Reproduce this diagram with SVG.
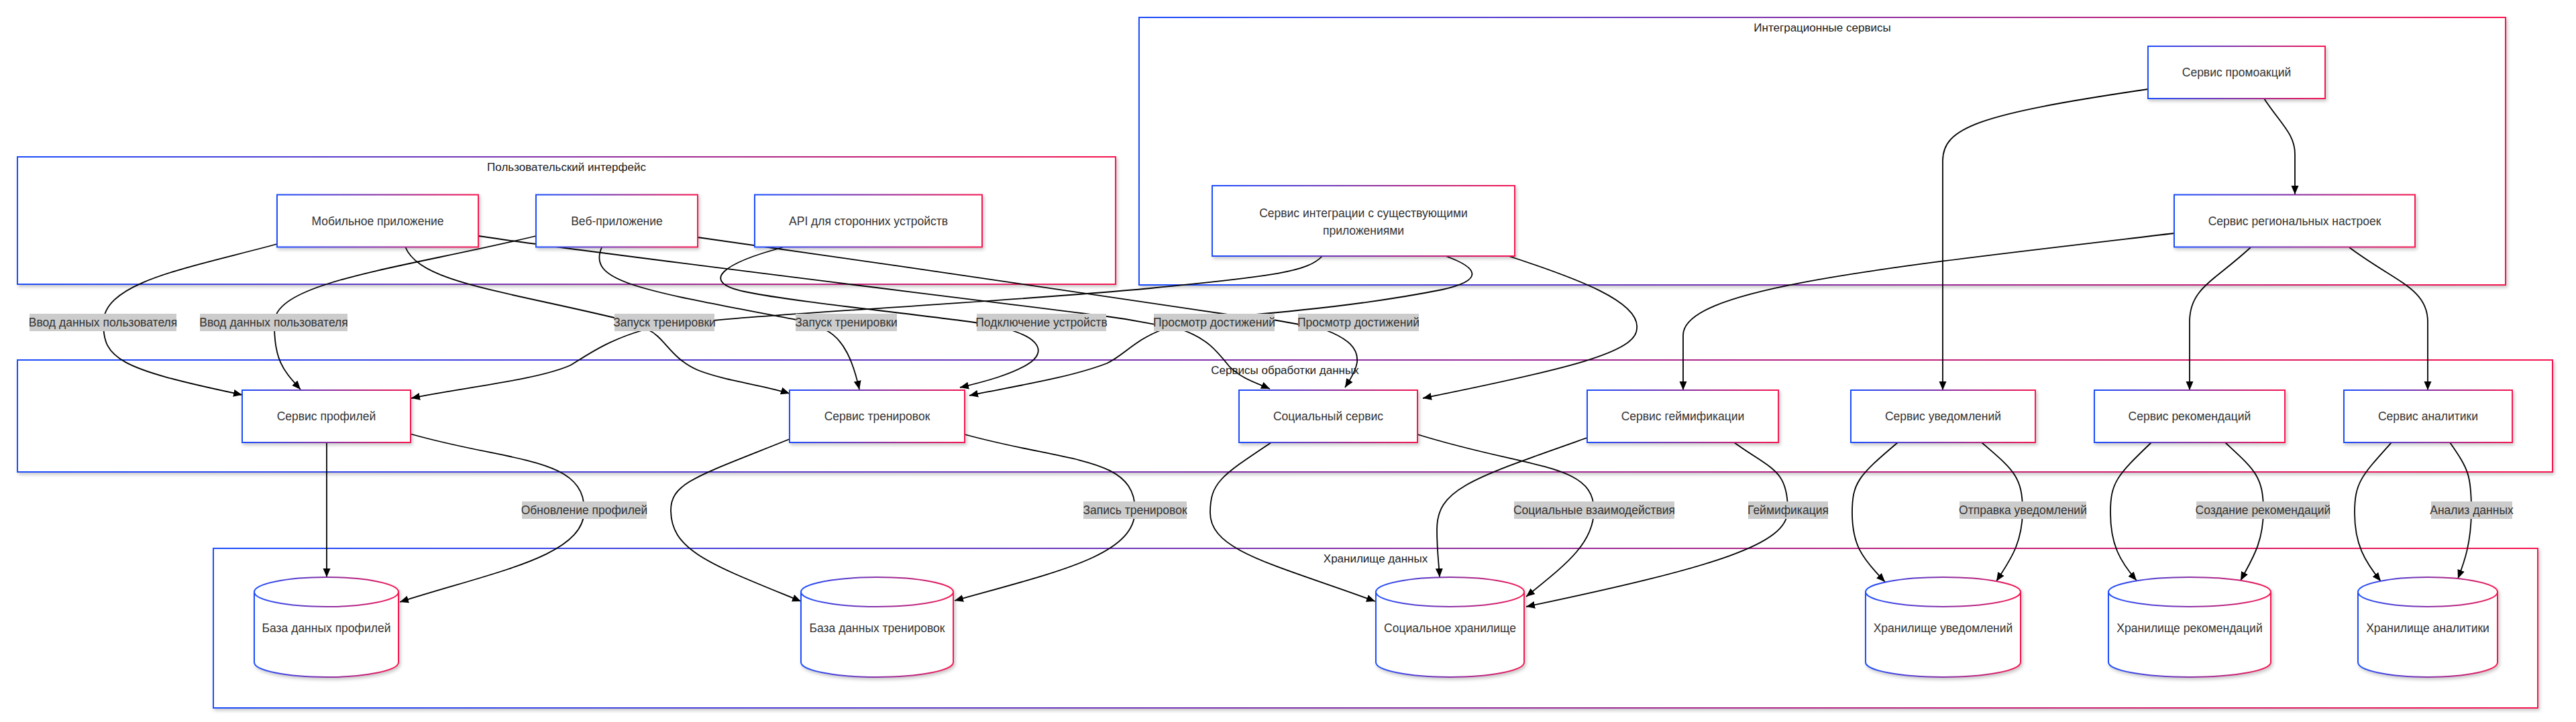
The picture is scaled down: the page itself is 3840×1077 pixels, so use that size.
<svg xmlns="http://www.w3.org/2000/svg" width="3840" height="1077" viewBox="0 0 3840 1077">
<defs>
  <linearGradient id="grad" x1="0" y1="0" x2="1" y2="0">
    <stop offset="0" stop-color="#1b4dff"/>
    <stop offset="1" stop-color="#f71650"/>
  </linearGradient>
  <filter id="sh" x="-5%" y="-10%" width="110%" height="130%">
    <feDropShadow dx="2" dy="3" stdDeviation="2.5" flood-color="#000" flood-opacity="0.22"/>
  </filter>
  <marker id="arr" markerUnits="userSpaceOnUse" markerWidth="14" markerHeight="12" refX="13" refY="5.5" orient="auto" viewBox="0 0 14 11">
    <path d="M0,0 L13,5.5 L0,11 z" fill="#000"/>
  </marker>
  <style>
    .box { fill:#fff; stroke:url(#grad); stroke-width:2; filter:url(#sh); }
    .ct { font-family:"Liberation Sans", Arial, sans-serif; font-size:17px; fill:#1a1a1a; text-anchor:middle; dominant-baseline:central; }
    .nt { font-family:"Liberation Sans", Arial, sans-serif; font-size:17.5px; fill:#333; text-anchor:middle; dominant-baseline:central; }
    .e { fill:none; stroke:#000; stroke-width:1.8; marker-end:url(#arr); }
    .lb { fill:#cccccc; }
    .lt { font-family:"Liberation Sans", Arial, sans-serif; font-size:17.5px; fill:#333; text-anchor:middle; dominant-baseline:central; }
  </style>
</defs>
<rect width="3840" height="1077" fill="#fff"/>

<g id="clusters">
  <g id="cluster-ui">
    <rect class="box" x="26" y="234" width="1637" height="190"/>
    <text class="ct" x="844.5" y="249">Пользовательский интерфейс</text>
  </g>
  <g id="cluster-integration">
    <rect class="box" x="1698" y="26" width="2037" height="399"/>
    <text class="ct" x="2716.5" y="41">Интеграционные сервисы</text>
  </g>
  <g id="cluster-processing">
    <rect class="box" x="26" y="537" width="3779" height="167"/>
    <text class="ct" x="1915.5" y="552">Сервисы обработки данных</text>
  </g>
  <g id="cluster-storage">
    <rect class="box" x="318" y="818" width="3465" height="238"/>
    <text class="ct" x="2050.5" y="833">Хранилище данных</text>
  </g>
</g>

<g id="connectors">
  <path class="e" d="M413,364 C280,400 156,420 154,481 C154,535 175,550 361,589"/>
  <path class="e" d="M799,352 C600,400 410,420 409,481 C408,540 425,555 448,581"/>
  <path class="e" d="M604,368 C625,420 740,432 916,474 L966,492 C990,502 1000,535 1040,552 C1080,568 1140,575 1177,587"/>
  <path class="e" d="M897,369 C875,420 950,432 1187,477 L1230,492 C1258,505 1272,540 1281,581"/>
  <path class="e" d="M1167,369 C1080,392 1040,420 1110,435 C1180,450 1380,470 1460,482 L1505,492 C1540,502 1562,520 1537,540 C1512,558 1465,570 1431,578"/>
  <path class="e" d="M1040,354 C1300,390 1700,450 1837,470 L1762,492 C1800,505 1815,525 1832,546 C1850,565 1875,572 1893,580"/>
  <path class="e" d="M713,352 C900,380 1400,440 1650,472 C1690,477 1710,482 1722,484 L1898,477 L1937,484 L1975,492 C2010,505 2025,520 2023,540 C2021,555 2010,570 2005,578"/>
  <path class="e" d="M1971,382 C1950,405 1900,412 1715,430 C1500,450 1200,465 1063,478 L957,493 C905,508 875,530 850,545 C800,567 690,578 613,594"/>
  <path class="e" d="M2155,382 C2205,400 2212,418 2150,432 C2050,452 1950,462 1862,470 L1732,492 C1692,507 1675,530 1650,542 C1590,565 1500,578 1445,590"/>
  <path class="e" d="M2249,382 C2350,415 2445,450 2440,490 C2440,525 2340,550 2121,594"/>
  <path class="e" d="M3241,348 C2800,400 2509,430 2509,500 L2509,582"/>
  <path class="e" d="M3202,133 C2950,170 2896,190 2896,240 L2896,582"/>
  <path class="e" d="M3375,147 C3400,185 3421,200 3421,230 L3421,290"/>
  <path class="e" d="M3355,369 C3300,420 3264,430 3264,480 L3264,582"/>
  <path class="e" d="M3502,369 C3570,420 3619,430 3619,480 L3619,582"/>
  <path class="e" d="M487,660 L487,861"/>
  <path class="e" d="M611,647 C760,690 871,680 871,761 C871,830 740,852 596,898"/>
  <path class="e" d="M1177,655 C1040,710 1000,720 1000,761 C1000,822 1060,842 1194,897"/>
  <path class="e" d="M1438,648 C1590,690 1692,680 1692,761 C1692,828 1580,852 1423,896"/>
  <path class="e" d="M1895,660 C1820,710 1804,720 1804,765 C1804,822 1900,842 2050,897"/>
  <path class="e" d="M2113,648 C2280,700 2376,690 2376,761 C2376,812 2330,845 2275,890"/>
  <path class="e" d="M2366,653 C2190,715 2142,730 2142,790 C2142,822 2145,842 2146,861"/>
  <path class="e" d="M2585,660 C2640,700 2665,700 2665,761 C2665,812 2560,845 2275,905"/>
  <path class="e" d="M2829,660 C2770,710 2761,720 2761,765 C2761,812 2775,832 2810,868"/>
  <path class="e" d="M2954,660 C3000,700 3015,710 3015,761 C3015,812 2995,837 2976,867"/>
  <path class="e" d="M3207,660 C3155,710 3146,720 3146,765 C3146,812 3160,837 3185,866"/>
  <path class="e" d="M3317,660 C3360,700 3374,710 3374,761 C3374,812 3355,837 3340,866"/>
  <path class="e" d="M3565,660 C3520,710 3510,720 3510,765 C3510,812 3525,837 3549,867"/>
  <path class="e" d="M3652,660 C3680,700 3684,710 3684,761 C3684,812 3672,842 3664,863"/>
</g>

<g id="edge-labels">
  <rect class="lb" x="44" y="468" width="219" height="26"/><text class="lt" x="153.5" y="481">Ввод данных пользователя</text>
  <rect class="lb" x="298" y="468" width="220" height="26"/><text class="lt" x="408" y="481">Ввод данных пользователя</text>
  <rect class="lb" x="916" y="468" width="149" height="26"/><text class="lt" x="990.5" y="481">Запуск тренировки</text>
  <rect class="lb" x="1186" y="468" width="151" height="26"/><text class="lt" x="1261.5" y="481">Запуск тренировки</text>
  <rect class="lb" x="1456" y="468" width="193" height="26"/><text class="lt" x="1552.5" y="481">Подключение устройств</text>
  <rect class="lb" x="1720" y="468" width="180" height="26"/><text class="lt" x="1810" y="481">Просмотр достижений</text>
  <rect class="lb" x="1935" y="468" width="180" height="26"/><text class="lt" x="2025" y="481">Просмотр достижений</text>
  <rect class="lb" x="778" y="748" width="186" height="26"/><text class="lt" x="871" y="761">Обновление профилей</text>
  <rect class="lb" x="1615" y="748" width="154" height="26"/><text class="lt" x="1692" y="761">Запись тренировок</text>
  <rect class="lb" x="2257" y="748" width="239" height="26"/><text class="lt" x="2376.5" y="761">Социальные взаимодействия</text>
  <rect class="lb" x="2606" y="748" width="119" height="26"/><text class="lt" x="2665.5" y="761">Геймификация</text>
  <rect class="lb" x="2921" y="748" width="189" height="26"/><text class="lt" x="3015.5" y="761">Отправка уведомлений</text>
  <rect class="lb" x="3274" y="748" width="199" height="26"/><text class="lt" x="3373.5" y="761">Создание рекомендаций</text>
  <rect class="lb" x="3624" y="748" width="121" height="26"/><text class="lt" x="3684.5" y="761">Анализ данных</text>
</g>

<g id="node-mobile"><rect class="box" x="413" y="290.5" width="300" height="78"/><text class="nt" x="563" y="329.5">Мобильное приложение</text></g>
<g id="node-web"><rect class="box" x="799" y="290.5" width="241" height="78"/><text class="nt" x="919.5" y="329.5">Веб-приложение</text></g>
<g id="node-api"><rect class="box" x="1125" y="290.5" width="339" height="78"/><text class="nt" x="1294.5" y="329.5">API для сторонних устройств</text></g>
<g id="node-integration"><rect class="box" x="1807" y="277" width="451" height="105"/><text class="nt" x="2032.5" y="318">Сервис интеграции с существующими</text><text class="nt" x="2032.5" y="344">приложениями</text></g>
<g id="node-promo"><rect class="box" x="3202" y="69" width="264" height="78"/><text class="nt" x="3334" y="108">Сервис промоакций</text></g>
<g id="node-regional"><rect class="box" x="3241" y="290.5" width="359" height="78"/><text class="nt" x="3420.5" y="329.5">Сервис региональных настроек</text></g>

<g id="node-profile"><rect class="box" x="361" y="582" width="251" height="78"/><text class="nt" x="486.5" y="621">Сервис профилей</text></g>
<g id="node-training"><rect class="box" x="1177" y="582" width="261" height="78"/><text class="nt" x="1307.5" y="621">Сервис тренировок</text></g>
<g id="node-social"><rect class="box" x="1847" y="582" width="266" height="78"/><text class="nt" x="1980" y="621">Социальный сервис</text></g>
<g id="node-gamification"><rect class="box" x="2366" y="582" width="285" height="78"/><text class="nt" x="2508.5" y="621">Сервис геймификации</text></g>
<g id="node-notification"><rect class="box" x="2759" y="582" width="275" height="78"/><text class="nt" x="2896.5" y="621">Сервис уведомлений</text></g>
<g id="node-recommendation"><rect class="box" x="3122" y="582" width="284" height="78"/><text class="nt" x="3264" y="621">Сервис рекомендаций</text></g>
<g id="node-analytics"><rect class="box" x="3494" y="582" width="251" height="78"/><text class="nt" x="3619.5" y="621">Сервис аналитики</text></g>

<g id="db-profile"><path class="box" d="M379,883 a107.5,22 0 0,0 215,0 a107.5,22 0 0,0 -215,0 l0,105 a107.5,22 0 0,0 215,0 l0,-105"/><text class="nt" x="486.5" y="937">База данных профилей</text></g>
<g id="db-training"><path class="box" d="M1194,883 a113.5,22 0 0,0 227,0 a113.5,22 0 0,0 -227,0 l0,105 a113.5,22 0 0,0 227,0 l0,-105"/><text class="nt" x="1307.5" y="937">База данных тренировок</text></g>
<g id="db-social"><path class="box" d="M2051,883 a110.5,22 0 0,0 221,0 a110.5,22 0 0,0 -221,0 l0,105 a110.5,22 0 0,0 221,0 l0,-105"/><text class="nt" x="2161.5" y="937">Социальное хранилище</text></g>
<g id="db-notification"><path class="box" d="M2781,883 a115.5,22 0 0,0 231,0 a115.5,22 0 0,0 -231,0 l0,105 a115.5,22 0 0,0 231,0 l0,-105"/><text class="nt" x="2896.5" y="937">Хранилище уведомлений</text></g>
<g id="db-recommendation"><path class="box" d="M3143,883 a121,22 0 0,0 242,0 a121,22 0 0,0 -242,0 l0,105 a121,22 0 0,0 242,0 l0,-105"/><text class="nt" x="3264" y="937">Хранилище рекомендаций</text></g>
<g id="db-analytics"><path class="box" d="M3515,883 a104,22 0 0,0 208,0 a104,22 0 0,0 -208,0 l0,105 a104,22 0 0,0 208,0 l0,-105"/><text class="nt" x="3619" y="937">Хранилище аналитики</text></g>
</svg>
